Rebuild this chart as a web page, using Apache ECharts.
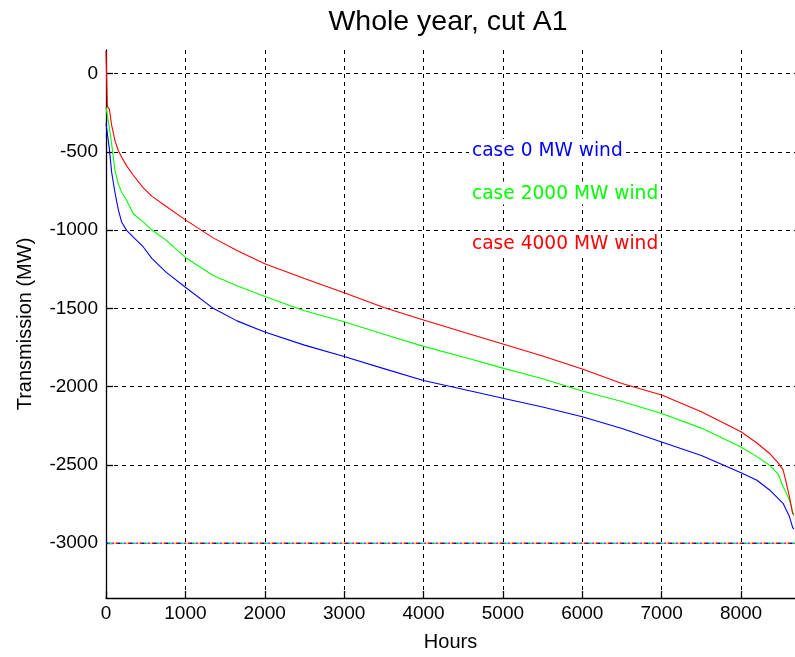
<!DOCTYPE html>
<html>
<head>
<meta charset="utf-8">
<script src="https://cdn.jsdelivr.net/npm/echarts@6/dist/echarts.min.js"></script>
<style>
html,body{margin:0;padding:0;background:#fff;}
#chart{width:795px;height:657px;}
</style>
</head>
<body>
<div id="chart"></div>
<script>
// ---- data ----
var hours = [0, 17, 42, 71, 113, 155, 197, 260, 344, 470, 580, 760, 1000, 1350, 1650, 2000, 2500, 3000, 3500, 4000, 4580, 5000, 5500, 6000, 6500, 7000, 7500, 8000, 8200, 8360, 8470, 8530, 8570, 8610, 8650, 8665];
var case0 = [-320, -330, -480, -630, -760, -870, -949, -1002, -1045, -1108, -1182, -1270, -1365, -1500, -1580, -1651, -1735, -1807, -1885, -1961, -2026, -2074, -2130, -2192, -2268, -2353, -2440, -2550, -2598, -2660, -2715, -2745, -2788, -2830, -2899, -2910];
var case2000 = [-215, -227, -344, -450, -620, -705, -758, -811, -896, -949, -1000, -1066, -1175, -1290, -1355, -1425, -1515, -1586, -1665, -1743, -1822, -1882, -1950, -2028, -2095, -2171, -2265, -2385, -2447, -2502, -2560, -2639, -2680, -2724, -2800, -2825];
var case4000 = [145, -210, -227, -330, -429, -492, -535, -590, -650, -730, -785, -850, -935, -1050, -1130, -1215, -1310, -1400, -1495, -1575, -1664, -1728, -1805, -1887, -1980, -2053, -2160, -2288, -2360, -2427, -2489, -2532, -2615, -2702, -2809, -2815];
var seriesNames = ['case 0 MW wind', 'case 2000 MW wind', 'case 4000 MW wind'];
var limitValue = -3000;
var xTicks = [0, 1000, 2000, 3000, 4000, 5000, 6000, 7000, 8000];
var yTicks = [-3000, -2500, -2000, -1500, -1000, -500, 0];
var xRange = [0, 8680];
var yRange = [-3350, 150];

// ---- styles ----
var seriesColors = ['#0000ff', '#00ff00', '#ff0000'];
var limitColors = ['#0000ff', '#ff0000', '#e0e000', '#ff00ff', '#00e0e0', '#00c000'];
var labelFont = 'Liberation Sans, Arial, sans-serif';

function pairs(xs, ys) {
  var out = [];
  for (var i = 0; i < xs.length; i++) out.push([xs[i], ys[i]]);
  return out;
}
function plainNumber(v) { return String(v); }

var curveData = [case0, case2000, case4000];
var series = [];
for (var k = 0; k < curveData.length; k++) {
  series.push({
    name: seriesNames[k],
    type: 'line',
    data: pairs(hours, curveData[k]),
    showSymbol: false,
    symbol: 'none',
    clip: false,
    lineStyle: { color: seriesColors[k], width: 1.1 },
    z: 3 + k
  });
}
for (var c = 0; c < limitColors.length; c++) {
  series.push({
    type: 'line',
    data: [[xRange[0], limitValue], [xRange[1], limitValue]],
    symbol: 'none',
    silent: true,
    clip: false,
    lineStyle: {
      color: limitColors[c],
      width: 1.5,
      type: [2, (limitColors.length - 1) * 2],
      dashOffset: c * 2
    },
    z: 2
  });
}

var legendTops = [139, 181.5, 231.5];
var titles = [{
  text: 'Whole year, cut A1',
  left: 448,
  top: 8,
  padding: 0,
  textAlign: 'center',
  textStyle: { fontFamily: labelFont, fontSize: 28.5, fontWeight: 'normal', color: '#000' }
}];
for (var t = 0; t < seriesNames.length; t++) {
  titles.push({
    text: seriesNames[t],
    left: 469,
    top: legendTops[t],
    padding: [3, 2, 1, 3],
    backgroundColor: '#ffffff',
    textStyle: { fontFamily: 'DejaVu Sans, sans-serif', fontSize: 18.6, fontWeight: 'normal', color: seriesColors[t] }
  });
}

var gridLine = { show: true, lineStyle: { color: '#000', type: [4, 4], width: 1 } };

var option = {
  animation: false,
  backgroundColor: '#ffffff',
  title: titles,
  grid: { left: 106, right: 0, top: 50, bottom: 59, containLabel: false },
  xAxis: {
    type: 'value',
    min: xRange[0],
    max: xRange[1],
    name: 'Hours',
    nameLocation: 'middle',
    nameGap: 34,
    nameTextStyle: { fontFamily: labelFont, fontSize: 20, color: '#000' },
    axisLine: { show: true, onZero: false, lineStyle: { color: '#000', width: 1.3 } },
    axisTick: { show: true, inside: true, length: 7, customValues: xTicks, lineStyle: { color: '#000', width: 1.3 } },
    axisLabel: { customValues: xTicks, formatter: plainNumber, margin: 6, fontFamily: labelFont, fontSize: 19, color: '#000' },
    splitLine: gridLine
  },
  yAxis: {
    type: 'value',
    min: yRange[0],
    max: yRange[1],
    name: 'Transmission (MW)',
    nameLocation: 'middle',
    nameGap: 71,
    nameTextStyle: { fontFamily: labelFont, fontSize: 20, color: '#000' },
    axisLine: { show: true, onZero: false, lineStyle: { color: '#000', width: 1.3 } },
    axisTick: { show: true, inside: true, length: 7, customValues: yTicks, lineStyle: { color: '#000', width: 1.3 } },
    axisLabel: { customValues: yTicks, formatter: plainNumber, margin: 8, fontFamily: labelFont, fontSize: 19, color: '#000' },
    splitLine: gridLine
  },
  series: series
};

var chart = echarts.init(document.getElementById('chart'), null, { renderer: 'canvas' });
chart.setOption(option);
</script>
</body>
</html>
